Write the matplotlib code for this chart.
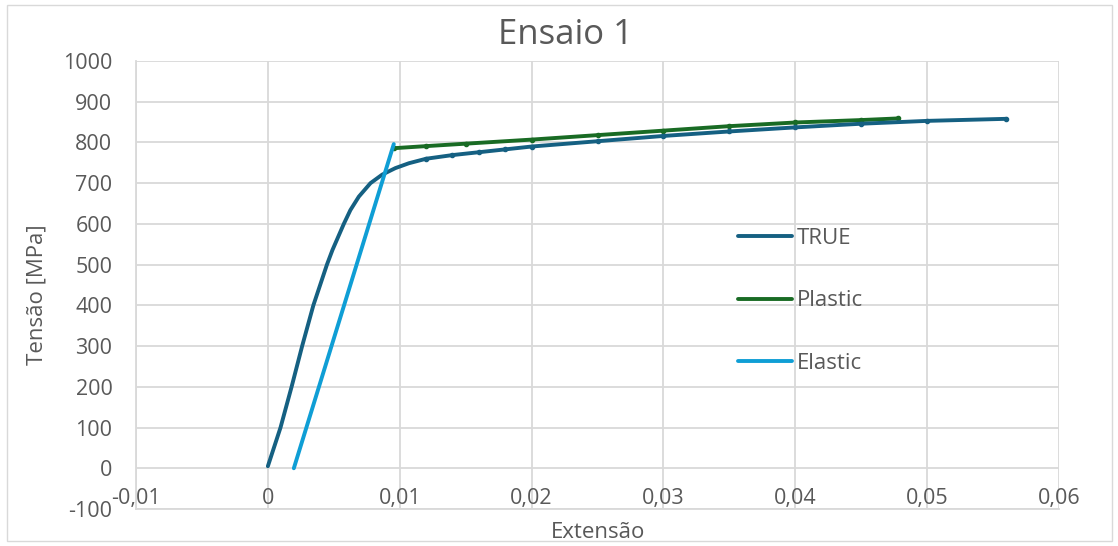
import numpy as np
import matplotlib
matplotlib.use('Agg')
import matplotlib.pyplot as plt
from matplotlib.ticker import FuncFormatter, MultipleLocator
from matplotlib.patches import Rectangle

plt.rcParams['font.family'] = ['Open Sans', 'DejaVu Sans']

# curve data
true_x = [0, 0.00096, 0.0018, 0.0026, 0.00345, 0.00448, 0.0049,
          0.00576, 0.00626, 0.0069, 0.00778, 0.00867, 0.00967, 0.0107, 0.012,
          0.014, 0.016, 0.018, 0.020, 0.025, 0.030, 0.035, 0.040, 0.045,
          0.050, 0.056]
true_y = [5, 100, 200, 300, 400, 500, 536,
          600, 634, 667, 700, 721, 737, 749, 760,
          769, 776, 783, 790, 803, 816, 827, 837, 846,
          853, 858]

plastic_x = [0.0096, 0.012, 0.015, 0.020, 0.025, 0.030, 0.035, 0.040, 0.045, 0.0478]
plastic_y = [786, 791, 797, 807, 818, 829, 840, 849, 855, 859]

elastic_x = [0.00197, 0.00955]
elastic_y = [0, 796]

C_TRUE = '#156082'
C_PLASTIC = '#196B24'
C_ELASTIC = '#0F9ED5'
GRID = '#D9D9D9'
TXT = '#595959'
W, H = 1118, 546

fig = plt.figure(figsize=(W / 100, H / 100), dpi=100)
fig.patches.append(Rectangle((7 / W, 5 / H), 1105 / W, 536 / H,
                             transform=fig.transFigure, fill=False,
                             edgecolor=GRID, lw=1))
ax = fig.add_axes([136 / W, 1 - 509 / H, 923 / W, 448 / H])

ax.plot(true_x, true_y, color=C_TRUE, lw=2.8, solid_capstyle='round',
        solid_joinstyle='round', label='TRUE', zorder=3)
ax.plot(true_x[14:], true_y[14:], 'o', color=C_TRUE, ms=3, zorder=3)
ax.plot(plastic_x, plastic_y, color=C_PLASTIC, lw=2.8, solid_capstyle='round',
        solid_joinstyle='round', label='Plastic', zorder=2)
ax.plot(plastic_x, plastic_y, 'o', color=C_PLASTIC, ms=3, zorder=2)
ax.plot(elastic_x, elastic_y, color=C_ELASTIC, lw=2.8,
        solid_capstyle='round', label='Elastic', zorder=4)

ax.set_xlim(-0.01, 0.06)
ax.set_ylim(-100, 1000)
ax.xaxis.set_major_locator(MultipleLocator(0.01))
ax.yaxis.set_major_locator(MultipleLocator(100))


def fmt_x(v, pos):
    if abs(v) < 1e-9:
        return '0'
    return ('%.2f' % v).replace('.', ',')


ax.xaxis.set_major_formatter(FuncFormatter(fmt_x))
ax.yaxis.set_major_formatter(FuncFormatter(lambda v, p: '%d' % round(v)))
ax.tick_params(length=0, labelsize=15.5, colors=TXT)
ax.tick_params(axis='y', pad=17)
ax.tick_params(axis='x', pad=-15)
ax.grid(True, color=GRID, lw=1.3)
ax.set_axisbelow(True)
for s in ['top', 'right']:
    ax.spines[s].set_visible(False)
for s in ['left', 'bottom']:
    ax.spines[s].set_color(GRID)
    ax.spines[s].set_linewidth(1.3)

fig.text(566 / W, 1 - 35 / H, 'Ensaio 1', fontsize=25, color=TXT,
         ha='center', va='center')
fig.text(598 / W, 1 - 533 / H, 'Extensão', fontsize=16, color=TXT,
         ha='center', va='center')
fig.text(37 / W, 1 - 295 / H, 'Tensão [MPa]', fontsize=16, color=TXT,
         ha='center', va='center', rotation=90)

ax.legend(loc='upper left', bbox_to_anchor=(738 / W, 1 - 228 / H),
          bbox_transform=fig.transFigure, frameon=False, fontsize=16,
          handlelength=2.45, handletextpad=0.2, labelspacing=1.86,
          borderpad=0, borderaxespad=0, labelcolor=TXT)

fig.savefig('out.png', dpi=100)
